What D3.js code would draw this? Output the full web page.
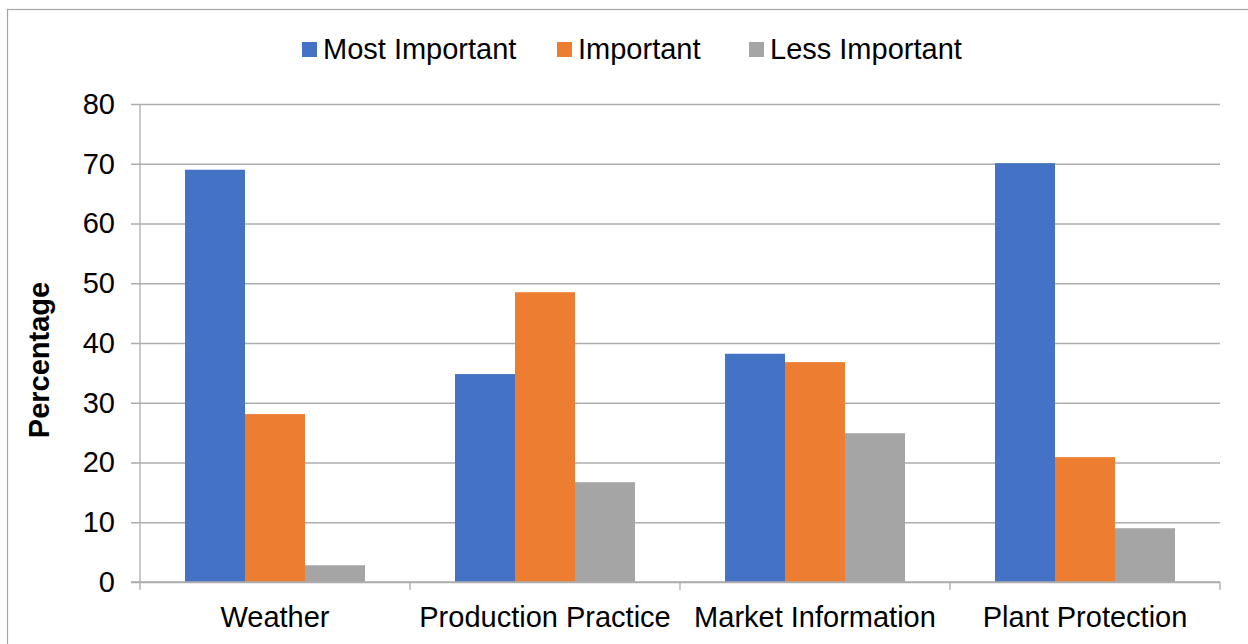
<!DOCTYPE html>
<html>
<head>
<meta charset="utf-8">
<script src="https://cdn.jsdelivr.net/npm/d3@7"></script>
<style>
  html, body { margin: 0; padding: 0; background: #fff; }
  svg { display: block; font-family: "Liberation Sans", Arial, sans-serif; }
</style>
</head>
<body>
<svg id="chart" width="1248" height="644"></svg>
<script>
// Survey responses: share of respondents rating each information type
const categories = ["Weather", "Production Practice", "Market Information", "Plant Protection"];
const seriesNames = ["Most Important", "Important", "Less Important"];
const mostImportant = [69.0, 34.8, 38.2, 70.1];
const important = [28.1, 48.5, 36.8, 20.9];
const lessImportant = [2.8, 16.7, 24.9, 9.0];
const yTicks = [0, 10, 20, 30, 40, 50, 60, 70, 80];
const colors = ["#4472C4", "#ED7D31", "#A5A5A5"];

const seriesValues = [mostImportant, important, lessImportant];

const svg = d3.select("#chart");
const gridColor = "#ADADAD";

// outer chart frame
svg.append("rect")
  .attr("x", 7.5).attr("y", 9.5)
  .attr("width", 1400).attr("height", 800)
  .attr("fill", "none").attr("stroke", "#A6A6A6").attr("stroke-width", 1.2);

const plot = { left: 140, right: 1220, top: 104, bottom: 582 };

const x = d3.scaleBand().domain(categories).range([plot.left, plot.right]).padding(0);
const inner = d3.scaleBand().domain(seriesNames)
  .range([x.bandwidth() / 6, x.bandwidth() * 5 / 6]).padding(0);
const y = d3.scaleLinear().domain([0, 80]).range([plot.bottom, plot.top]);

// horizontal gridlines with short left ticks
const yAxis = d3.axisLeft(y).tickValues(yTicks).tickSize(-(plot.right - plot.left)).tickPadding(18);
const gy = svg.append("g").attr("transform", `translate(${plot.left},0)`).call(yAxis);
gy.select(".domain").remove();
gy.selectAll(".tick line").attr("stroke", gridColor).attr("stroke-width", 1.3)
  .attr("x1", -9);
gy.selectAll(".tick text")
  .attr("x", -25)
  .attr("font-size", 29).attr("fill", "#000")
  .attr("font-family", "Liberation Sans, Arial, sans-serif");

// bars
const groups = svg.append("g").selectAll("g")
  .data(categories)
  .join("g")
  .attr("transform", d => `translate(${x(d)},0)`);

groups.selectAll("rect")
  .data((c, i) => seriesNames.map((s, j) => ({ series: s, value: seriesValues[j][i], idx: j })))
  .join("rect")
  .attr("x", d => inner(d.series))
  .attr("width", inner.bandwidth())
  .attr("y", d => y(d.value))
  .attr("height", d => y(0) - y(d.value))
  .attr("fill", d => colors[d.idx]);

// vertical axis line
svg.append("line")
  .attr("x1", plot.left).attr("x2", plot.left)
  .attr("y1", plot.top).attr("y2", plot.bottom)
  .attr("stroke", gridColor).attr("stroke-width", 1.3);

// category axis with boundary ticks
const gx = svg.append("g").attr("transform", `translate(0,${plot.bottom})`);
gx.append("line")
  .attr("x1", plot.left - 9).attr("x2", plot.right)
  .attr("stroke", gridColor).attr("stroke-width", 1.3);
const boundaries = categories.map(c => x(c)).concat([x(categories[categories.length - 1]) + x.bandwidth()]);
gx.selectAll("line.bound")
  .data(boundaries)
  .join("line")
  .attr("class", "bound")
  .attr("x1", d => d).attr("x2", d => d)
  .attr("y1", 0).attr("y2", 8)
  .attr("stroke", gridColor).attr("stroke-width", 1.3);
gx.selectAll("text")
  .data(categories)
  .join("text")
  .attr("x", d => x(d) + x.bandwidth() / 2)
  .attr("y", 45)
  .attr("text-anchor", "middle")
  .attr("font-size", 29)
  .attr("fill", "#000")
  .text(d => d);

// y-axis title
svg.append("text")
  .attr("transform", "translate(49,360) rotate(-90)")
  .attr("text-anchor", "middle")
  .attr("font-size", 29)
  .attr("font-weight", "bold")
  .attr("fill", "#000")
  .text("Percentage");

// legend
const legendX = [302, 557, 749];
const legend = svg.append("g").selectAll("g")
  .data(seriesNames)
  .join("g")
  .attr("transform", (d, i) => `translate(${legendX[i]},42)`);
legend.append("rect")
  .attr("width", 15).attr("height", 15)
  .attr("fill", (d, i) => colors[i]);
legend.append("text")
  .attr("x", 21).attr("y", 16.5)
  .attr("font-size", 29)
  .attr("fill", "#000")
  .text(d => d);
</script>
</body>
</html>
